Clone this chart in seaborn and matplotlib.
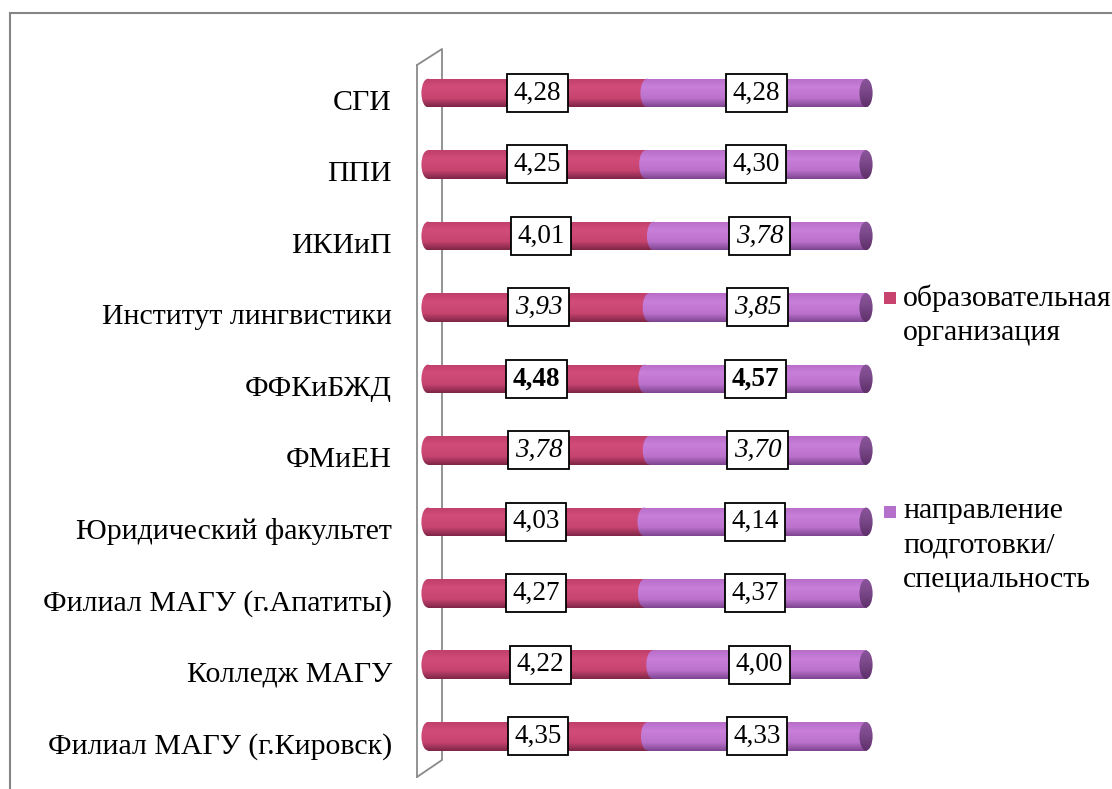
import numpy as np
import pandas as pd
import matplotlib
matplotlib.use("Agg")
import matplotlib.pyplot as plt
import matplotlib.transforms as mtrans
import seaborn as sns
from matplotlib.colors import LinearSegmentedColormap
from matplotlib.patches import Ellipse, Rectangle

# ---------------- data ----------------
categories = ["СГИ", "ППИ", "ИКИиП", "Институт лингвистики", "ФФКиБЖД", "ФМиЕН",
              "Юридический факультет", "Филиал МАГУ (г.Апатиты)", "Колледж МАГУ",
              "Филиал МАГУ (г.Кировск)"]
org_values = [4.28, 4.25, 4.01, 3.93, 4.48, 3.78, 4.03, 4.27, 4.22, 4.35]
spec_values = [4.28, 4.30, 3.78, 3.85, 4.57, 3.70, 4.14, 4.37, 4.00, 4.33]
org_italic = [False, False, False, True, False, True, False, False, False, False]
spec_italic = [False, False, True, True, False, True, False, False, False, False]
row_bold = [False, False, False, False, True, False, False, False, False, False]
series_names = ["образовательная\nорганизация", "направление\nподготовки/\nспециальность"]

# ---------------- style ----------------
sns.set_style("white")
plt.rcParams["font.family"] = ["Liberation Serif", "DejaVu Serif"]
plt.rcParams["text.color"] = "black"

W, H = 1112, 789
fig = plt.figure(figsize=(W / 100, H / 100), dpi=100)

crimson = "#C8446F"
purple = "#BF76D1"
grey = "#8A8A8A"

df = pd.DataFrame({
    "cat": categories,
    "org": org_values,
    "spec": spec_values,
})
df["share"] = df["org"] / (df["org"] + df["spec"])
df["total"] = 1.0

x_lo, x_hi = -0.0251, 1.02
y_top, y_bot = -0.392, 9.57
ax = fig.add_axes([417 / W, 1 - 777 / H, (874.8 - 417) / W, (777 - 65) / H])

bar_h = 0.40
sns.barplot(data=df, x="total", y="cat", color=purple, saturation=1, width=bar_h,
            orient="h", ax=ax, zorder=2)
sns.barplot(data=df, x="share", y="cat", color=crimson, saturation=1, width=bar_h,
            orient="h", ax=ax, zorder=3)

cm_crimson = LinearSegmentedColormap.from_list(
    "cr", [(0, "#C03F6B"), (0.3, "#D24C7A"), (0.7, "#C7446F"), (1.0, "#7E2547")])
cm_purple = LinearSegmentedColormap.from_list(
    "pu", [(0, "#B86EC9"), (0.3, "#C87FD9"), (0.7, "#BC72CD"), (1.0, "#7E4590")])
cm_cap = LinearSegmentedColormap.from_list(
    "cap", [(0, "#8A559A"), (0.4, "#7D4A8C"), (1.0, "#5E3069")])

grad = np.linspace(0, 1, 64).reshape(-1, 1)


def shade(patch, cmap, x0, x1, y0, y1, z):
    im = ax.imshow(grad, cmap=cmap, aspect="auto", extent=(x0, x1, y1, y0),
                   origin="upper", zorder=z, interpolation="bilinear")
    im.set_clip_path(patch)
    patch.set_facecolor("none")
    patch.set_edgecolor("none")


for cont, cmap, z in [(ax.containers[0], cm_purple, 2.1), (ax.containers[1], cm_crimson, 3.1)]:
    for p in cont:
        x0, y0, w, h = p.get_x(), p.get_y(), p.get_width(), p.get_height()
        shade(p, cmap, x0, x0 + w, y0, y0 + h, z)

cap_w = 0.03
for i in range(len(categories)):
    s = df["share"].iloc[i]
    # left rounded end (crimson)
    le = Ellipse((0, i), cap_w, bar_h, facecolor=crimson, edgecolor="none", zorder=3)
    ax.add_patch(le)
    shade(le, cm_crimson, -cap_w, cap_w, i - bar_h / 2, i + bar_h / 2, 3.2)
    # rounded start of the purple segment over the crimson one
    me = Ellipse((s, i), cap_w, bar_h, facecolor=purple, edgecolor="none", zorder=3)
    ax.add_patch(me)
    shade(me, cm_purple, s - cap_w, s + cap_w, i - bar_h / 2, i + bar_h / 2, 3.4)
    # right end cap (dark purple)
    re = Ellipse((1, i), cap_w, bar_h, facecolor=purple, edgecolor="none", zorder=3)
    ax.add_patch(re)
    shade(re, cm_cap, 1 - cap_w, 1 + cap_w, i - bar_h / 2, i + bar_h / 2, 3.3)


def fmt(v):
    return f"{v:.2f}".replace(".", ",")


for i in range(len(categories)):
    s = df["share"].iloc[i]
    for xpos, val, it in [(s / 2, org_values[i], org_italic[i]),
                          (s + (1 - s) / 2, spec_values[i], spec_italic[i])]:
        ax.text(xpos, i, fmt(val), ha="center", va="center", fontsize=19.5,
                color="black",
                fontstyle="italic" if it else "normal",
                fontweight="bold" if row_bold[i] else "normal",
                bbox=dict(boxstyle="square,pad=0.24", fc="white", ec="black", lw=1.3),
                zorder=10)

ax.set_xlim(x_lo, x_hi)
ax.set_ylim(y_bot, y_top)

# axes / 3D wall
for sp in ["top", "right", "bottom"]:
    ax.spines[sp].set_visible(False)
ax.spines["left"].set_color(grey)
ax.spines["left"].set_linewidth(1.3)
ax.set_xticks([])
ax.set_xlabel("")
ax.set_ylabel("")
ax.set_yticks(range(len(categories)))
ax.set_yticklabels(categories, fontsize=21.5, color="black")
ax.tick_params(axis="y", which="major", length=0, pad=18, labelcolor="black")
ax.set_yticks(np.linspace(-0.35, 9.57, 11), minor=True)
ax.tick_params(axis="y", which="minor", length=5, width=1.3, color=grey, direction="out")
shift = mtrans.ScaledTranslation(0, -7 / 100, fig.dpi_scale_trans)
for lab in ax.get_yticklabels():
    lab.set_transform(lab.get_transform() + shift)

back_x = 0.032
ax.plot([x_lo, back_x, back_x, x_lo], [y_top, -0.616, 9.332, y_bot], color=grey,
        lw=1.3, clip_on=False, zorder=1)

# legend (manual, first-line aligned markers)
leg_cols = [crimson, "#B470CA"]
leg_y = [284, 498]
for col, name, yy in zip(leg_cols, series_names, leg_y):
    fig.patches.append(Rectangle((884 / W, 1 - (yy + 20) / H), 12 / W, 12 / H,
                                 transform=fig.transFigure, facecolor=col,
                                 edgecolor="none"))
    fig.text(903 / W, 1 - yy / H, name, ha="left", va="top", fontsize=21.5,
             linespacing=1.4, color="black")

# outer frame (extends past right and bottom edges)
fig.patches.append(Rectangle((10 / W, -0.1), 1.2, 1 - 13 / H + 0.1,
                             transform=fig.transFigure, facecolor="none",
                             edgecolor="#858585", lw=1.5))

fig.savefig("out.png", dpi=100)
